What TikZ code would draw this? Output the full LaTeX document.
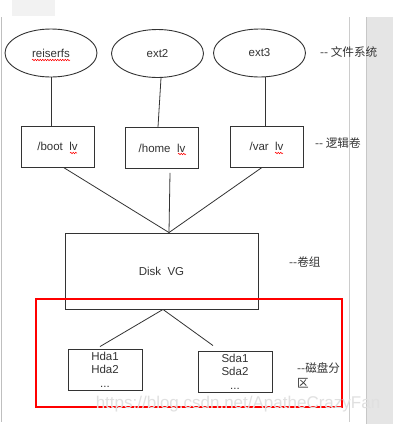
\documentclass[tikz,border=0pt]{standalone}
\usepackage{fontspec}
\setmainfont{Liberation Sans}
\newfontfamily\cjk{Noto Sans CJK SC}
\usepackage{tikz}
\usetikzlibrary{shapes.geometric}
\usetikzlibrary{decorations.pathmorphing}
\definecolor{ink}{HTML}{333333}

\begin{document}
\begin{tikzpicture}[x=1pt, y=-1pt,
        font=\fontsize{11.5}{13.5}\selectfont, text=ink,
        fsnode/.style={ellipse, draw=ink, line width=0.9pt, inner sep=0pt, minimum width=92pt, minimum height=48pt},
        lvbox/.style={rectangle, draw=ink, line width=0.9pt, minimum width=73pt, minimum height=41pt},
        vgbox/.style={rectangle, draw=ink, line width=0.9pt, minimum width=193pt, minimum height=76pt},
        pvbox/.style={rectangle, draw=ink, line width=0.9pt, minimum width=74pt, minimum height=41pt, align=center, inner sep=1pt},
        edge/.style={draw=ink, line width=0.8pt},
        note/.style={font=\cjk\fontsize{11.6}{15}\selectfont, inner sep=0pt, anchor=west},
        squig/.style={red, line width=0.5pt, decorate, decoration={snake, amplitude=0.8pt, segment length=2.5pt}}]
        \useasboundingbox (0,0) rectangle (410,424);

        % Frame
        \fill[white] (0,0) rectangle (410,424);
        \fill[black!5] (12,0) rectangle (55,16);
        \draw[black!25, line width=1pt] (1.5,17) -- (1.5,422);
        \draw[black!20, line width=1pt] (349,17) -- (349,422);
        \fill[black!10] (366,17) rectangle (393,424);
        \draw[black!22] (366.5,17) -- (366.5,424);

        % Nodes
        \node[fsnode] (fs1) at (51,53) {reiserfs};
        \node[fsnode] (fs2) at (157.5,53.5) {ext2};
        \node[fsnode] (fs3) at (259.5,53) {ext3};
        \node[lvbox] (lv1) at (57.5,146.5) {/boot~ lv};
        \node[lvbox] (lv2) at (162,148) {/home~ lv};
        \node[lvbox] (lv3) at (266.5,146.5) {/var~ lv};
        \node[vgbox] (vg) at (161.5,271) {Disk~ VG};
        \node[pvbox] (pv1) at (105,369.5) {Hda1\\Hda2\\...};
        \node[pvbox] (pv2) at (235,371.5) {Sda1\\Sda2\\...};
        \coordinate (vgtop) at ([xshift=7.5pt]vg.north);
        \coordinate (vgbot) at ([xshift=1.5pt]vg.south);

        % Edges
        \draw[edge] (fs1.south) -- (fs1.south |- lv1.north);
        \draw[edge] ([xshift=3.5pt]fs2.south) -- ([xshift=-4pt]lv2.north);
        \draw[edge] ([xshift=5.5pt]fs3.south) -- ([xshift=-1.5pt]lv3.north);
        \draw[edge] ([xshift=6pt]lv1.south) -- (vgtop);
        \draw[edge] ([xshift=8pt,yshift=-4pt]lv2.south) -- (vgtop);
        \draw[edge] ([xshift=-4.5pt]lv3.south) -- (vgtop);
        \draw[edge] (vgbot) -- ([xshift=-5pt,yshift=2pt]pv1.north);
        \draw[edge] (vgbot) -- ([xshift=-22pt,yshift=5pt]pv2.north);
        \draw[red, line width=1.3pt] (36,299) rectangle (342,407);

        % Spelling marks
        \draw[squig] (32,60) -- (70,60);
        \draw[squig] (70,153) -- (77,153);
        \draw[squig] (178,154) -- (186,154);
        \draw[squig] (275,153) -- (283,153);

        % Labels
        \node[note] (n1) at (320,52) {-{}- 文件系统};
        \node[note] (n2) at (315,143) {-{}- 逻辑卷};
        \node[note] (n3) at (289,262) {-{}-卷组};
        \node[note, align=left] (n4) at (297,375.5) {-{}-磁盘分\\区};
        \node[text=black!12, font=\fontsize{17}{17}\selectfont, anchor=base] (wm) at (238,408) {https://blog.csdn.net/ApatheCrazyFan};
    \end{tikzpicture}
\end{document}
